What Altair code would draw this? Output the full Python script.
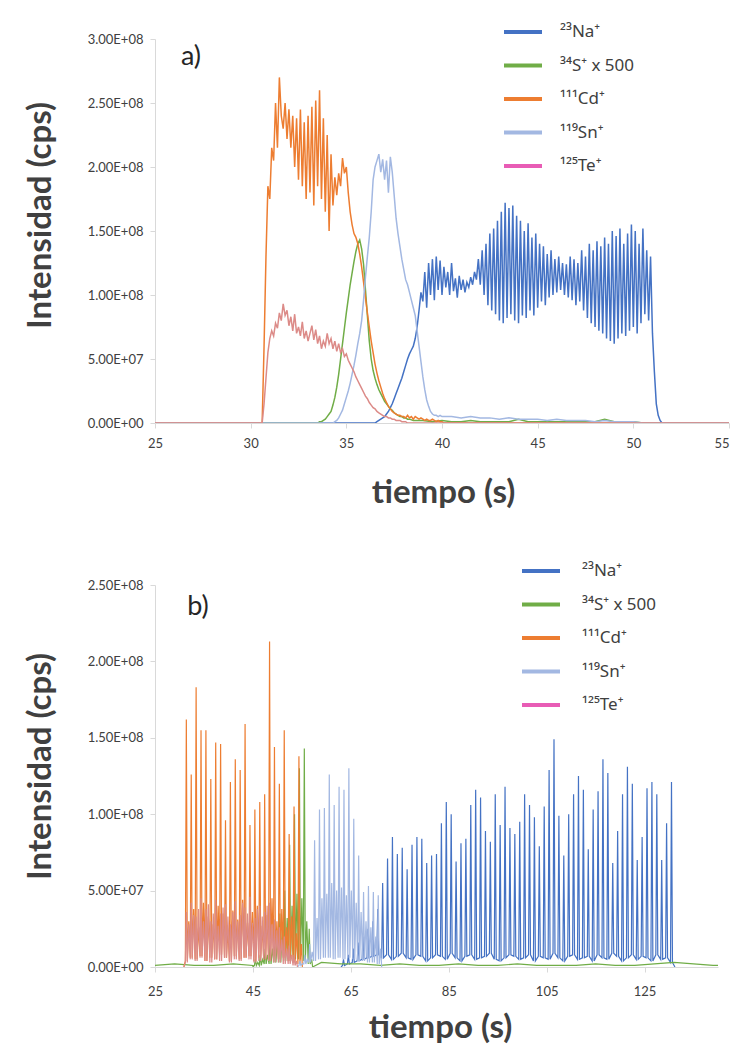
import altair as alt
import pandas as pd

M = 1e6  # values below are in units of 1e6 cps

LABELS = ["²³Na⁺", "³⁴S⁺ x 500", "¹¹¹Cd⁺", "¹¹⁹Sn⁺", "¹²⁵Te⁺"]
LINE_COLORS = ["#4472C4", "#70AD47", "#ED7D31", "#A3B8E2", "#DC8B88"]
LEGEND_COLORS = ["#4472C4", "#70AD47", "#ED7D31", "#A3B8E2", "#E85CB5"]

# ---------------- panel a) : continuous signals, sampled every 0.1 s ----------------
A_X_TICKS = [25, 30, 35, 40, 45, 50, 55]
A_Y_TICKS = [0, 5e7, 1e8, 1.5e8, 2e8, 2.5e8, 3e8]

na_a_t0 = 36.5
na_a = [0, 1, 2, 3, 4, 5, 7, 9, 12, 15, 19, 23, 27, 31, 35, 40, 45, 50, 54, 57,
        60, 66, 75, 88, 102, 95, 118, 90, 125, 100, 128, 96, 130, 104, 127, 100, 122, 106, 118, 100,
        125, 103, 113, 98, 115, 104, 112, 102, 110, 106, 114, 108, 118, 112, 128, 108, 135, 100, 140, 92,
        148, 88, 152, 85, 158, 80, 165, 78, 172, 82, 168, 85, 170, 80, 162, 78, 158, 84, 150, 82,
        156, 88, 145, 84, 148, 90, 140, 95, 138, 92, 132, 98, 135, 100, 128, 102, 130, 104, 125, 100,
        124, 98, 130, 96, 128, 92, 125, 95, 135, 88, 130, 82, 140, 78, 135, 75, 142, 72, 138, 70,
        145, 66, 140, 64, 150, 62, 146, 66, 152, 70, 140, 68, 148, 72, 155, 75, 150, 70, 140, 78,
        152, 85, 135, 80, 130, 70, 40, 15, 6, 2, 0]

s_a_t0 = 33.5
s_a = [0, 1, 1, 2, 3, 5, 7, 9, 14, 20, 28, 38, 50, 62, 74, 86, 97, 108, 117, 126,
       134, 140, 143, 136, 124, 104, 84, 64, 50, 41, 35, 30, 26, 23, 20, 17, 15, 13, 11, 10,
       8, 7, 6, 5, 5, 4, 4, 3, 3]
s_a_tail_t0 = 38.5  # sampled every 0.5 s
s_a_tail = [2, 2, 1, 2, 1, 1, 2, 1, 1, 1, 1, 3, 1, 1, 1, 1, 1, 1, 1, 1, 3, 1, 1, 1, 0]

cd_a_t0 = 30.6
cd_a = [0, 60, 130, 185, 175, 215, 205, 250, 215, 270,
        240, 230, 250, 222, 245, 215, 240, 200, 238, 190,
        245, 185, 235, 175, 240, 180, 247, 170, 252, 185,
        260, 175, 238, 165, 225, 150, 210, 170, 192, 178,
        195, 185, 207, 195, 200, 180, 165, 155, 148, 145,
        140, 132, 122, 110, 98, 86, 75, 64, 55, 46,
        39, 33, 28, 23, 19, 16, 13, 11, 9, 8,
        7, 6, 6, 5, 5, 4, 6, 4, 5, 3, 5, 4, 3, 4, 3, 2, 3, 2, 2, 3, 2, 1, 2, 1, 1, 0]

sn_a_t0 = 34.3
sn_a = [0, 1, 2, 4, 7, 10, 15, 20, 25, 31, 38, 45, 53, 62, 70, 80, 96, 114, 130, 145,
        165, 190, 200, 205, 210, 196, 206, 190, 205, 180, 208, 196, 178, 160, 148, 138, 128, 120, 112, 108,
        102, 96, 90, 84, 72, 60, 48, 36, 26, 18, 13, 9, 7, 6, 6, 5, 6, 5]
sn_a_tail_t0 = 40.5  # sampled every 0.5 s
sn_a_tail = [5, 4, 5, 4, 4, 3, 4, 3, 3, 3, 2, 3, 2, 2, 2, 1, 2, 1, 1, 1, 0]

te_a_t0 = 30.6
te_a = [0, 15, 35, 55, 66, 72, 68, 78, 74, 86, 80, 93, 84, 88, 76, 83, 72, 85, 70, 75,
        68, 79, 66, 72, 64, 70, 76, 65, 73, 62, 68, 58, 64, 60, 70, 62, 66, 58, 64, 56,
        62, 55, 58, 52, 54, 49, 46, 43, 40, 36, 33, 30, 27, 24, 21, 19, 16, 14, 12, 11,
        9, 8, 7, 6, 5, 5, 4, 4, 3, 3, 2, 2, 2, 1, 1, 1, 0]

# ---------------- panel b) : pulsed signals, one pulse per second ----------------
# peaks: pulse maxima; mids: secondary maxima half a second later; lows: minima
B_X_TICKS = [25, 45, 65, 85, 105, 125]
B_Y_TICKS = [0, 5e7, 1e8, 1.5e8, 2e8, 2.5e8]

na_b_t0 = 63.5
na_b_peaks = [5, 8, 12, 16, 20, 25, 30, 38,
              55, 71, 85, 74, 78, 64, 80, 85, 84, 68, 73, 74, 94, 108, 100, 69, 81, 84, 106, 116,
              111, 89, 82, 113, 93, 118, 91, 87, 95, 113, 106, 98,
              79, 105, 129, 149, 99, 73, 100, 113, 125, 116, 77, 103, 115, 136, 127, 68, 89, 113,
              131, 120, 70, 85, 117, 121, 113, 70, 94, 121]
na_b_lows = [1, 2, 3, 4, 5, 6, 7, 8,
             6, 8, 5, 7, 9, 6, 5, 8, 7, 4, 6, 8, 7, 5, 9, 6, 4, 7, 8, 5,
             6, 7, 9, 5, 4, 6, 8, 7, 5, 6, 8, 4,
             7, 6, 5, 9, 6, 4, 7, 8, 5, 6, 7, 4, 8, 6, 5, 9, 7, 4,
             6, 8, 5, 7, 6, 4, 8, 5, 6, 3]

s_b_t0 = 45.5
s_b_peaks = [5, 8, 12, 18, 25, 35, 50, 80, 100, 130, 143, 25]
s_b_mids = [3, 5, 8, 12, 18, 25, 32, 40, 48, 45, 30, 5]
s_b_lows = [1, 1, 2, 2, 3, 3, 4, 4, 5, 5, 4, 2]
s_b_base1_t0 = 25.0  # baseline, every 4 s
s_b_base1 = [1, 2, 1, 1, 2, 1]
s_b_base2_t0 = 59.0  # baseline, every 4 s
s_b_base2 = [3, 2, 2, 1, 2, 1, 1, 2, 1, 1, 2, 1, 1, 1, 2, 1, 1, 2, 3, 2, 1]

cd_b_t0 = 31.4
cd_b_peaks = [162, 126, 183, 155, 155, 123, 147, 146, 96, 121, 136, 129, 159, 93, 103, 108,
              113, 213, 144, 120, 155, 87, 105, 138]
cd_b_mids = [30, 38, 26, 42, 33, 28, 40, 35, 24, 37, 31, 44, 29, 36, 40, 27,
             34, 45, 30, 38, 26, 33, 22, 15]
cd_b_lows = [4, 6, 5, 7, 4, 6, 5, 8, 6, 4, 7, 5, 6, 7, 4, 6, 5, 4, 7, 5, 6, 4, 3, 2]

sn_b_t0 = 54.6
sn_b_peaks = [4, 8, 15, 83, 103, 104, 126, 106, 118, 116, 130, 97, 73, 49, 53, 49, 47]
sn_b_mids = [2, 5, 10, 32, 45, 48, 55, 50, 52, 47, 50, 42, 36, 30, 26, 20, 12]
sn_b_lows = [1, 2, 3, 4, 5, 6, 6, 5, 6, 5, 6, 5, 4, 4, 3, 3, 2]

te_b_t0 = 31.4
te_b_peaks = [36, 42, 33, 45, 38, 30, 44, 35, 41, 28, 43, 34, 39, 46, 32, 40, 36, 42, 31, 26, 20, 14, 8]
te_b_mids = [28, 34, 38, 30, 41, 35, 27, 39, 33, 36, 30, 42, 35, 29, 38, 33, 40, 28, 24, 18, 12, 8, 4]
te_b_lows = [3, 5, 4, 6, 4, 3, 5, 4, 6, 3, 5, 4, 6, 5, 3, 4, 5, 4, 3, 3, 2, 2, 1]


def add_samples(rows, label, t0, step, vals):
    for i, v in enumerate(vals):
        rows.append({"t": round(t0 + i * step, 3), "v": v * M, "s": label})


def add_pulses(rows, label, t0, peaks, lows, mids=None, half=0.2):
    for k, (p, lo) in enumerate(zip(peaks, lows)):
        tk = t0 + k
        rows.append({"t": round(tk - half, 3), "v": lo * M, "s": label})
        rows.append({"t": round(tk, 3), "v": p * M, "s": label})
        rows.append({"t": round(tk + half, 3), "v": lo * M, "s": label})
        if mids is not None:
            rows.append({"t": round(tk + 0.5, 3), "v": mids[k] * M, "s": label})
    rows.append({"t": round(t0 - 0.5, 3), "v": 0.0, "s": label})
    rows.append({"t": round(t0 + len(peaks) - 0.3, 3), "v": 0.0, "s": label})


rows_a = []
for lab in LABELS:
    rows_a.append({"t": 25.0, "v": 0.0, "s": lab})
    if lab == LABELS[0]:
        add_samples(rows_a, lab, na_a_t0, 0.1, na_a)
    elif lab == LABELS[1]:
        add_samples(rows_a, lab, s_a_t0, 0.1, s_a)
        add_samples(rows_a, lab, s_a_tail_t0, 0.5, s_a_tail)
    elif lab == LABELS[2]:
        add_samples(rows_a, lab, cd_a_t0, 0.1, cd_a)
    elif lab == LABELS[3]:
        add_samples(rows_a, lab, sn_a_t0, 0.1, sn_a)
        add_samples(rows_a, lab, sn_a_tail_t0, 0.5, sn_a_tail)
    else:
        add_samples(rows_a, lab, te_a_t0, 0.1, te_a)
    rows_a.append({"t": 55.0, "v": 0.0, "s": lab})
df_a = pd.DataFrame(rows_a)

rows_b = []
add_pulses(rows_b, LABELS[0], na_b_t0, na_b_peaks, na_b_lows)
add_samples(rows_b, LABELS[1], s_b_base1_t0, 4, s_b_base1)
add_pulses(rows_b, LABELS[1], s_b_t0, s_b_peaks, s_b_lows, s_b_mids)
add_samples(rows_b, LABELS[1], s_b_base2_t0, 4, s_b_base2)
rows_b.append({"t": 140.0, "v": 1 * M, "s": LABELS[1]})
add_pulses(rows_b, LABELS[2], cd_b_t0, cd_b_peaks, cd_b_lows, cd_b_mids)
add_pulses(rows_b, LABELS[3], sn_b_t0, sn_b_peaks, sn_b_lows, sn_b_mids)
add_pulses(rows_b, LABELS[4], te_b_t0, te_b_peaks, te_b_lows, te_b_mids)
df_b = pd.DataFrame(rows_b)

leg_df = pd.DataFrame({"s": LABELS, "i": [0, 1, 2, 3, 4], "c": LEGEND_COLORS})

Y_LABEL_EXPR = "replace(upper(format(datum.value, '.2e')), 'E+', 'E+0')"
FONT = "Lato"
TXT = "#404040"


def panel(df, xdom, xticks, ydom, yticks, width, height, tag, tag_xy,
          leg_x, leg_y, xtitle_xy, ytitle_xy, xlabel_pad, lw):
    last = xticks[-1]
    x = alt.X("t:Q", scale=alt.Scale(domain=xdom, nice=False, zero=False),
              axis=alt.Axis(values=xticks, title="tiempo (s)", titleX=xtitle_xy[0],
                            titleY=xtitle_xy[1], titleAlign="center", titleBaseline="middle",
                            labelPadding=xlabel_pad, labelFlush=False,
                            labelAlign=alt.condition(f"datum.value == {last} && {last} == {xdom[1]}",
                                                     alt.value("right"), alt.value("center"))))
    y = alt.Y("v:Q", scale=alt.Scale(domain=ydom, nice=False),
              axis=alt.Axis(values=yticks, labelExpr=Y_LABEL_EXPR, title="Intensidad (cps)",
                            titleX=ytitle_xy[0], titleY=ytitle_xy[1], titleAngle=270,
                            titleAlign="center", titleBaseline="middle", labelPadding=7))
    lines = alt.Chart(df).mark_line(strokeWidth=lw, clip=True).encode(
        x=x, y=y,
        color=alt.Color("s:N", scale=alt.Scale(domain=LABELS, range=LINE_COLORS), legend=None),
    )
    leg_y_enc = alt.Y("i:Q", scale=alt.Scale(domain=[0, 4], range=list(leg_y)), axis=None)
    leg_rules = alt.Chart(leg_df).mark_rule(strokeWidth=4).encode(
        x=alt.value(leg_x[0]), x2=alt.value(leg_x[1]), y=leg_y_enc,
        color=alt.Color("c:N", scale=None),
    )
    leg_text = alt.Chart(leg_df).mark_text(
        align="left", baseline="middle", font="Noto Sans", fontSize=17, color=TXT
    ).encode(x=alt.value(leg_x[2]), y=leg_y_enc, text="s:N")
    tag_chart = alt.Chart(pd.DataFrame({"lbl": [tag]})).mark_text(
        fontSize=27, font=FONT, color="#262626", align="center", baseline="middle"
    ).encode(text="lbl:N", x=alt.value(tag_xy[0]), y=alt.value(tag_xy[1]))
    return alt.layer(lines, leg_rules, leg_text, tag_chart).resolve_scale(
        y="independent"
    ).properties(width=width, height=height)


chart_a = panel(df_a, [25, 55], A_X_TICKS, [0, 3e8], A_Y_TICKS, 574, 384, "a)", (36, 18),
                (349, 387, 405), (-7, 127), (288, 69), (-115, 176), 9, 1.5)
chart_b = panel(df_b, [25, 140], B_X_TICKS, [0, 2.5e8], B_Y_TICKS, 563, 382, "b)", (43, 22),
                (367, 405, 427), (-14, 120), (285, 60), (-115, 181), 13, 1.2)

chart = alt.vconcat(chart_a, chart_b, spacing=53).resolve_scale(
    x="independent", y="independent", color="independent"
).properties(
    padding={"left": 24, "top": 23, "right": 0, "bottom": 0},
    background="white",
).configure_view(stroke=None).configure_axis(
    grid=False, domainColor="#D9D9D9", tickColor="#D9D9D9", tickSize=5,
    labelFont=FONT, labelFontSize=13, labelColor="#404040",
    titleFont=FONT, titleFontSize=33, titleFontWeight="bold", titleColor=TXT,
)

chart.save("out.html", embed_options={"renderer": "svg", "actions": False})
